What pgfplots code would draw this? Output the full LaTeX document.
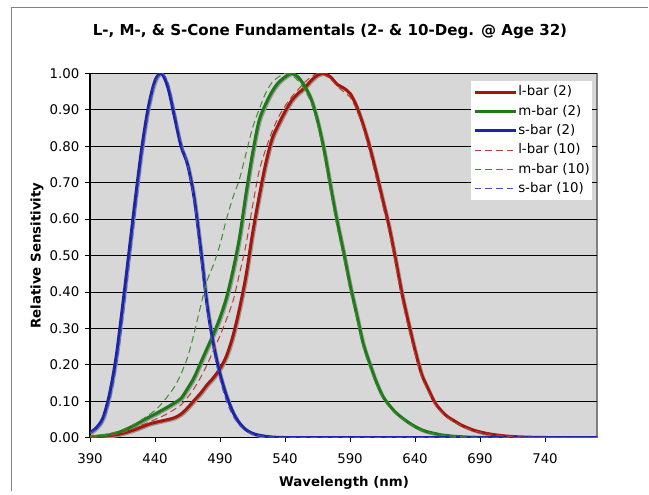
\documentclass[border=0pt]{standalone}
\usepackage{fontspec}
\setmainfont{DejaVu Sans}
\usepackage{pgfplots}
\usepackage{pgfplotstable}
\pgfplotsset{compat=1.18}
\definecolor{lcol}{RGB}{165,22,12}
\definecolor{mcol}{RGB}{30,122,22}
\definecolor{scol}{RGB}{28,38,165}
\definecolor{lcolten}{RGB}{185,62,52}
\definecolor{mcolten}{RGB}{62,140,52}
\definecolor{scolten}{RGB}{70,80,195}
\definecolor{plotbg}{RGB}{215,215,215}
\definecolor{framegray}{RGB}{128,128,128}
\definecolor{shadowgray}{RGB}{150,150,150}

\pgfplotstableread{
lam l2 m2 s2 l10 m10 s10
390 0.002 0.003 0.014 0.002 0.004 0.012
395 0.003 0.004 0.028 0.003 0.006 0.024
400 0.004 0.006 0.055 0.005 0.008 0.045
405 0.006 0.008 0.120 0.007 0.012 0.100
410 0.008 0.012 0.220 0.010 0.016 0.190
415 0.012 0.019 0.360 0.014 0.022 0.320
420 0.017 0.027 0.510 0.020 0.030 0.470
425 0.023 0.036 0.660 0.027 0.039 0.620
430 0.030 0.046 0.800 0.035 0.050 0.770
435 0.037 0.056 0.910 0.042 0.062 0.890
440 0.042 0.065 0.980 0.050 0.075 0.970
445 0.046 0.075 1.000 0.058 0.093 1.000
450 0.050 0.085 0.960 0.067 0.115 0.975
455 0.055 0.096 0.880 0.078 0.140 0.900
460 0.065 0.108 0.800 0.090 0.175 0.810
465 0.082 0.135 0.750 0.110 0.220 0.750
470 0.102 0.165 0.660 0.135 0.285 0.650
475 0.122 0.205 0.520 0.165 0.360 0.500
480 0.145 0.245 0.365 0.200 0.430 0.355
485 0.165 0.285 0.255 0.240 0.475 0.240
490 0.190 0.330 0.175 0.280 0.530 0.160
495 0.225 0.385 0.115 0.325 0.600 0.100
500 0.280 0.460 0.070 0.375 0.660 0.060
505 0.355 0.550 0.040 0.450 0.710 0.034
510 0.445 0.670 0.022 0.530 0.780 0.018
515 0.560 0.780 0.012 0.635 0.850 0.010
520 0.660 0.870 0.007 0.730 0.900 0.006
525 0.750 0.915 0.004 0.790 0.945 0.003
530 0.820 0.950 0.002 0.840 0.975 0.002
535 0.860 0.975 0.001 0.880 0.990 0.001
540 0.895 0.990 0.0006 0.910 1.000 0.0006
545 0.925 1.000 0.0003 0.935 0.995 0.0003
550 0.945 0.990 0.0002 0.955 0.980 0.0002
555 0.960 0.965 0.0001 0.975 0.955 0.0001
560 0.980 0.930 0.0001 0.990 0.920 0.0001
565 0.995 0.870 0 1.000 0.860 0
570 1.000 0.790 0 0.995 0.775 0
575 0.990 0.690 0 0.985 0.675 0
580 0.970 0.595 0 0.965 0.580 0
585 0.960 0.510 0 0.950 0.495 0
590 0.945 0.420 0 0.935 0.405 0
595 0.910 0.340 0 0.900 0.330 0
600 0.860 0.260 0 0.850 0.250 0
605 0.800 0.205 0 0.785 0.195 0
610 0.730 0.155 0 0.715 0.148 0
615 0.655 0.115 0 0.640 0.110 0
620 0.580 0.090 0 0.565 0.085 0
625 0.490 0.070 0 0.475 0.066 0
630 0.395 0.055 0 0.380 0.052 0
635 0.315 0.042 0 0.300 0.040 0
640 0.240 0.031 0 0.230 0.029 0
645 0.175 0.022 0 0.168 0.021 0
650 0.135 0.016 0 0.128 0.015 0
655 0.098 0.012 0 0.093 0.011 0
660 0.075 0.008 0 0.071 0.0075 0
665 0.058 0.006 0 0.055 0.0055 0
670 0.047 0.004 0 0.044 0.004 0
675 0.036 0.003 0 0.034 0.003 0
680 0.028 0.002 0 0.026 0.002 0
685 0.021 0.0015 0 0.020 0.0014 0
690 0.016 0.001 0 0.015 0.001 0
695 0.012 0.0007 0 0.011 0.0007 0
700 0.009 0.0005 0 0.0085 0.0005 0
705 0.0065 0.0004 0 0.006 0.0004 0
710 0.0047 0.0003 0 0.0044 0.0003 0
715 0.0034 0.0002 0 0.0032 0.0002 0
720 0.0025 0.00015 0 0.0023 0.00015 0
725 0.0018 0.0001 0 0.0017 0.0001 0
730 0.0013 0.0001 0 0.0012 0.0001 0
735 0.0010 0.0001 0 0.0009 0.0001 0
740 0.0007 0 0 0.0007 0 0
745 0.0005 0 0 0.0005 0 0
750 0.0004 0 0 0.0004 0 0
755 0.0003 0 0 0.0003 0 0
760 0.0002 0 0 0.0002 0 0
765 0.0002 0 0 0.0002 0 0
770 0.0001 0 0 0.0001 0 0
775 0.0001 0 0 0.0001 0 0
780 0.0001 0 0 0.0001 0 0
}\cones

\begin{document}
\begin{tikzpicture}[x=1pt,y=1pt]
\path (0,0) rectangle (486.75,369);
\draw[framegray, line width=1.1pt] (8.5,0.6) -- (8.5,363.3) -- (486.1,363.3);
\node[font=\bfseries\fontsize{11.3}{13}\selectfont] at (247.5,345.4) {L-, M-, \& S-Cone Fundamentals (2- \& 10-Deg. @ Age 32)};
\begin{axis}[
  at={(67.5pt,40.7pt)}, anchor=south west,
  scale only axis, width=380.25pt, height=273.3pt,
  xmin=390, xmax=780, ymin=0, ymax=1,
  axis lines=left,
  axis line style={-, black, line width=0.8pt},
  axis background/.style={fill=plotbg, draw=framegray, line width=1pt},
  xtick={390,440,...,740},
  ytick={0,0.1,...,1.01},
  tick align=outside,
  major tick length=3.5pt,
  tick style={black, line width=0.6pt},
  ymajorgrids,
  grid style={black, line width=0.6pt},
  /pgf/number format/assume math mode=true,
  ticklabel style={font=\fontsize{10}{12}\selectfont},
  xticklabel style={yshift=-4.5pt},
  yticklabel style={/tikz/xshift=-1pt, /pgf/number format/.cd, fixed, fixed zerofill, precision=2},
  xlabel={Wavelength (nm)},
  ylabel={Relative Sensitivity},
  label style={font=\bfseries\fontsize{10}{12}\selectfont},
  xlabel style={at={(axis description cs:0.501,-0.1245)}, anchor=center},
  ylabel style={at={(axis description cs:-0.1045,0.5)}, anchor=center},
  legend style={at={(0.7515,0.979)}, anchor=north west, fill=white, draw=none,
    font=\fontsize{10}{12}\selectfont, inner xsep=1.5pt, inner ysep=1pt,
    row sep=0pt,
    nodes={inner xsep=0.5pt, inner ysep=0.5pt, text height=9.5pt, text depth=4pt}},
  legend cell align=left,
  legend image code/.code={\draw[#1] (0pt,0pt) -- (31pt,0pt);},
  every axis plot/.append style={line join=round, smooth},
]
\addplot[shadowgray, line width=2.25pt, forget plot, xshift=0.8pt, yshift=-0.8pt] table[x=lam,y=l2] {\cones};
\addplot[shadowgray, line width=2.25pt, forget plot, xshift=0.8pt, yshift=-0.8pt] table[x=lam,y=m2] {\cones};
\addplot[shadowgray, line width=2.25pt, forget plot, xshift=0.8pt, yshift=-0.8pt] table[x=lam,y=s2] {\cones};
\addplot[lcol, line width=2.25pt] table[x=lam,y=l2] {\cones};
\addlegendentry{l-bar (2)}
\addplot[mcol, line width=2.25pt] table[x=lam,y=m2] {\cones};
\addlegendentry{m-bar (2)}
\addplot[scol, line width=2.25pt] table[x=lam,y=s2] {\cones};
\addlegendentry{s-bar (2)}
\addplot[lcolten, line width=0.75pt, dash pattern=on 5pt off 3pt] table[x=lam,y=l10] {\cones};
\addlegendentry{l-bar (10)}
\addplot[mcolten, line width=0.75pt, dash pattern=on 5pt off 3pt] table[x=lam,y=m10] {\cones};
\addlegendentry{m-bar (10)}
\addplot[scolten, line width=0.75pt, dash pattern=on 5pt off 3pt] table[x=lam,y=s10] {\cones};
\addlegendentry{s-bar (10)}
\end{axis}
\end{tikzpicture}
\end{document}
